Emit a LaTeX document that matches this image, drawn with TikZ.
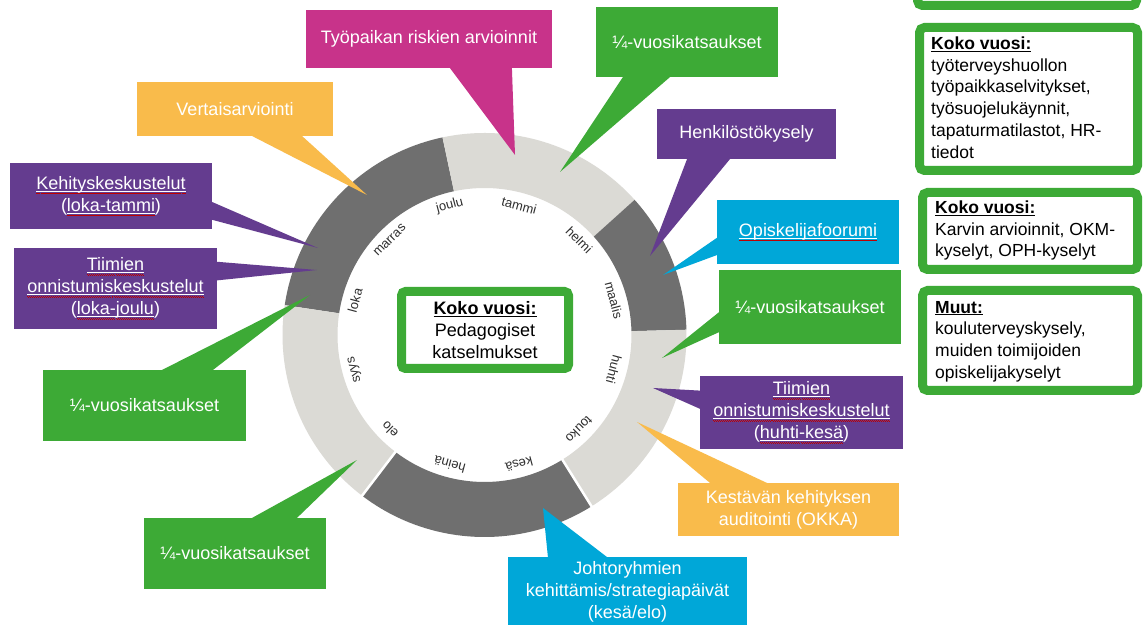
\documentclass[tikz,border=0pt]{standalone}
\usepackage{fontspec}
\setmainfont{Liberation Sans}
\usetikzlibrary{calc}
\definecolor{cMag}{HTML}{C8338A}
\definecolor{cOra}{HTML}{F9BB4B}
\definecolor{cGre}{HTML}{3DAA36}
\definecolor{cPur}{HTML}{643C8F}
\definecolor{cCya}{HTML}{00A7D8}
\definecolor{cDark}{HTML}{6F6F6F}
\definecolor{cLight}{HTML}{DBDAD5}
\definecolor{cText}{HTML}{2E2E2E}
\newcommand\spl[1]{\setbox0\hbox{#1}%
  \rlap{\color{white}\rule[-2.4pt]{\wd0}{0.9pt}}%
  \rlap{\color{red!75!black}\hbox to \wd0{\xleaders\hbox to 2pt{\rule[-4.3pt]{1pt}{0.5pt}\rule[-4.9pt]{1pt}{0.5pt}}\hfill}}%
  \box0}
\newcommand\ringseg[3]{\fill[#1] ($(C)+(#2:202)$) arc[start angle=#2,end angle=#3,radius=202] -- ($(C)+(#3:147)$) arc[start angle=#3,end angle=#2,radius=147] -- cycle;}
\newcommand\tailfill[6]{\fill[#1] ($(#2)!#4!(#3)$) -- (#6) -- ($(#2)!#5!(#3)$) -- cycle;}
\begin{document}
\begin{tikzpicture}[x=1pt,y=1pt,
  call/.style={fill=#1, text=white, inner sep=0, outer sep=0, align=center,
    font=\fontsize{18}{22}\selectfont},
  month/.style={text=cText, inner sep=0, font=\fontsize{13}{15}\selectfont},
  kbox/.style={draw=cGre, line width=9pt, fill=white, rounded corners=5pt, inner sep=0, outer sep=0},
  ktext/.style={align=left, inner sep=0, text=black, font=\fontsize{17.5}{21.8}\selectfont}]
\useasboundingbox (0,0) rectangle (1147,624);
\clip (0,0) rectangle (1147,624);
\fill[white] (0,0) rectangle (1147,624);
\coordinate (C) at (484.5,289);
% ring
\ringseg{cDark}{102}{171.5}
\ringseg{cLight}{42}{102}
\ringseg{cDark}{1.5}{42}
\ringseg{cLight}{-58}{1.5}
\ringseg{cDark}{-127.3}{-58}
\ringseg{cLight}{171.5}{232.7}
\draw[white, line width=2.5pt] ($(C)+(-58:145)$) -- ($(C)+(-58:204)$);
\draw[white, line width=2.5pt] ($(C)+(-127.3:145)$) -- ($(C)+(-127.3:204)$);
% months
\foreach \m [count=\k from 0] in {tammi,helmi,maalis,huhti,touko,kesä,heinä,elo,syys,loka,marras,joulu} {
  \pgfmathsetmacro\a{75-30*\k}
  \node[month, rotate=\a-90] (m\k) at ($(C)+(\a:134)$) {\m};
}
% callouts
\node[call=cMag, minimum width=246, minimum height=58] (riski) at (429,585) {Työpaikan riskien arvioinnit};
\coordinate (riskiT) at (515,469);
\tailfill{cMag}{riski.south west}{riski.south east}{0.585}{0.837}{riskiT}

\node[call=cOra, minimum width=196, minimum height=54] (vert) at (235,515) {Vertaisarviointi};
\coordinate (vertT) at (367,429);
\tailfill{cOra}{vert.south west}{vert.south east}{0.587}{0.842}{vertT}

\node[call=cGre, minimum width=182, minimum height=70] (qa) at (687,582) {¼-vuosikatsaukset};
\coordinate (qaT) at (560,452);
\tailfill{cGre}{qa.south west}{qa.south east}{0.148}{0.407}{qaT}

\node[call=cPur, minimum width=179, minimum height=50] (henk) at (746.5,490) {Henkilöstökysely};
\coordinate (henkT) at (650,368);
\tailfill{cPur}{henk.south west}{henk.south east}{0.168}{0.408}{henkT}

\node[call=cCya, minimum width=182, minimum height=64] (opis) at (808,392) {\spl{Opiskelijafoorumi}};
\coordinate (opisT) at (663,349);
\tailfill{cCya}{opis.north west}{opis.south west}{0.59}{0.86}{opisT}

\node[call=cGre, minimum width=182, minimum height=74] (qb) at (810,317) {¼-vuosikatsaukset};
\coordinate (qbT) at (662,266);
\tailfill{cGre}{qb.north west}{qb.south west}{0.57}{0.84}{qbT}

\node[call=cPur, minimum width=203, minimum height=73] (tiimib) at (801.5,211.5) {\spl{Tiimien}\\\spl{onnistumiskeskustelut}\\(\spl{huhti-kesä})};
\coordinate (tiimibT) at (653,236);
\tailfill{cPur}{tiimib.north west}{tiimib.south west}{0.20}{0.45}{tiimibT}

\node[call=cOra, minimum width=221, minimum height=53] (kest) at (788.5,114.5) {Kestävän kehityksen\\auditointi (OKKA)};
\coordinate (kestT) at (637,202);
\tailfill{cOra}{kest.north west}{kest.north east}{0.145}{0.403}{kestT}

\node[call=cCya, minimum width=239, minimum height=70] (johto) at (627.5,32) {Johtoryhmien\\kehittämis/strategiapäivät\\(kesä/elo)};
\coordinate (johtoT) at (543,116);
\tailfill{cCya}{johto.north west}{johto.north east}{0.167}{0.414}{johtoT}

\node[call=cPur, minimum width=202, minimum height=66] (kehi) at (111,428) {\spl{Kehityskeskustelut}\\(\spl{loka-tammi})};
\coordinate (kehiT) at (318,376);
\tailfill{cPur}{kehi.north east}{kehi.south east}{0.59}{0.86}{kehiT}

\node[call=cPur, minimum width=203, minimum height=81] (tiimia) at (115.5,335.5) {\spl{Tiimien}\\\spl{onnistumiskeskustelut}\\(\spl{loka-joulu})};
\coordinate (tiimiaT) at (317,354);
\tailfill{cPur}{tiimia.north east}{tiimia.south east}{0.17}{0.40}{tiimiaT}

\node[call=cGre, minimum width=203, minimum height=71] (qc) at (144.5,218.5) {¼-vuosikatsaukset};
\coordinate (qcT) at (310,329);
\tailfill{cGre}{qc.north west}{qc.north east}{0.586}{0.837}{qcT}

\node[call=cGre, minimum width=182, minimum height=71] (qd) at (235,70.5) {¼-vuosikatsaukset};
\coordinate (qdT) at (357,164);
\tailfill{cGre}{qd.north west}{qd.north east}{0.593}{0.84}{qdT}

% center box
\node[kbox, rounded corners=4pt, minimum width=167, minimum height=77, align=center,
  font=\fontsize{18}{22}\selectfont] (mid) at (485,294)
  {\textbf{\underline{Koko vuosi:}}\\Pedagogiset\\katselmukset};

% right boxes
\node[kbox, minimum width=219, minimum height=35.5] (rb0) at (1027,636.25) {};
\node[kbox, minimum width=218, minimum height=143] (rb1) at (1028.5,525) {};
\node[ktext, anchor=west] (rt1) at (931,526.5)
  {\textbf{\underline{Koko vuosi:}}\\työterveyshuollon\\työpaikkaselvitykset,\\työsuojelukäynnit,\\tapaturmatilastot, HR-\\tiedot};
\node[kbox, minimum width=215, minimum height=77] (rb2) at (1030,393) {};
\node[ktext, anchor=west] (rt2) at (935,393.5)
  {\textbf{\underline{Koko vuosi:}}\\Karvin arvioinnit, OKM-\\kyselyt, OPH-kyselyt};
\node[kbox, minimum width=215, minimum height=100] (rb3) at (1030,283.5) {};
\node[ktext, anchor=west] (rt3) at (935,282.5)
  {\textbf{\underline{Muut:}}\\kouluterveyskysely,\\muiden toimijoiden\\opiskelijakyselyt};
\end{tikzpicture}
\end{document}
